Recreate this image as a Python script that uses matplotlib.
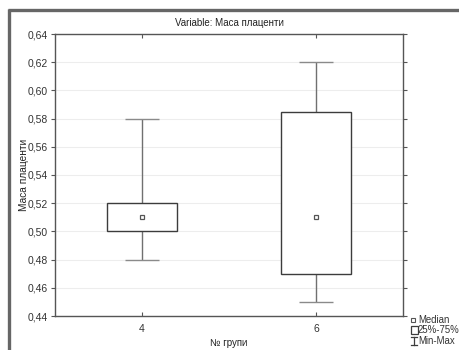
import matplotlib

matplotlib.use("Agg")
import matplotlib.pyplot as plt
from matplotlib.lines import Line2D
from matplotlib.patches import Rectangle

plt.rcParams["font.family"] = ["Liberation Sans", "DejaVu Sans"]

groups = ["4", "6"]
medians = [0.51, 0.51]
q25 = [0.50, 0.47]
q75 = [0.52, 0.585]
mins = [0.48, 0.45]
maxs = [0.58, 0.62]
yticks = [0.44, 0.46, 0.48, 0.50, 0.52, 0.54, 0.56, 0.58, 0.60, 0.62, 0.64]

EDGE = "#3c3c3c"
WHISK = "#707070"

fig = plt.figure(figsize=(4.6, 3.5), dpi=100)
ax = fig.add_axes([55 / 460, 34 / 350, 348 / 460, 282 / 350])

for i, g in enumerate(groups):
    ax.vlines(i, mins[i], q25[i], color=WHISK, lw=1.0, zorder=2)
    ax.vlines(i, q75[i], maxs[i], color=WHISK, lw=1.0, zorder=2)
    ax.hlines([mins[i], maxs[i]], i - 0.095, i + 0.095, color="#8a8a8a", lw=1.0, zorder=2)
    ax.add_patch(Rectangle((i - 0.2, q25[i]), 0.4, q75[i] - q25[i], facecolor="white",
                           edgecolor=EDGE, lw=1.0, zorder=3))
    ax.plot(i, medians[i], "s", ms=3.2, mfc="white", mec="#555555", mew=0.9, zorder=4)

ax.set_xlim(-0.5, 1.5)
ax.set_ylim(0.44, 0.64)
ax.set_xticks(range(len(groups)))
ax.set_xticklabels(groups)
ax.set_yticks(yticks)
ax.set_yticklabels([f"{v:.2f}".replace(".", ",") for v in yticks])
ax.yaxis.grid(True, color="#ededed", lw=0.8)
ax.set_axisbelow(True)
ax.tick_params(axis="y", direction="out", length=3, width=0.8, color="#555555",
               labelsize=7.5, labelcolor="#333333", right=True, pad=2)
ax.tick_params(axis="x", direction="in", length=3, width=0.8, color="#555555",
               labelsize=7.5, labelcolor="#333333", top=True, pad=6)
for s in ax.spines.values():
    s.set_color("#555555")
    s.set_linewidth(1.0)

ax.set_title("Variable: Маса плаценти", fontsize=7, color="#222222", pad=6)
ax.set_xlabel("№ групи", fontsize=7, color="#222222", labelpad=3)
ax.set_ylabel("Маса плаценти", fontsize=7.3, color="#222222")
ax.yaxis.set_label_coords((29 - 55) / 348, 0.5)

# legend block under the right spine
W, H = 460, 350
def fx(px):
    return px / W
def fy(py):
    return 1 - py / H

fig.add_artist(Line2D([fx(413.5)], [fy(320)], marker="s", ms=3, mfc="white",
                      mec="#555555", mew=0.8, ls=""))
fig.add_artist(Rectangle((fx(411), fy(334)), fx(7) - fx(0), fy(326) - fy(334),
                         transform=fig.transFigure, facecolor="white",
                         edgecolor=EDGE, lw=0.9))
fig.add_artist(Line2D([fx(414), fx(414)], [fy(337), fy(345)], color=EDGE, lw=0.9))
fig.add_artist(Line2D([fx(411), fx(417)], [fy(337), fy(337)], color=EDGE, lw=0.9))
fig.add_artist(Line2D([fx(411), fx(417)], [fy(345), fy(345)], color=EDGE, lw=0.9))
for py, txt in ((320, "Median"), (330, "25%-75%"), (341, "Min-Max")):
    fig.text(fx(418), fy(py), txt, fontsize=6.9, color="#333333", va="center", ha="left")

# window frame along the left and top edges
fig.add_artist(Line2D([fx(9), fx(9)], [fy(9), 0], color="#666666", lw=2.4,
                      solid_capstyle="butt"))
fig.add_artist(Line2D([fx(8), 1], [fy(10), fy(10)], color="#666666", lw=2.4,
                      solid_capstyle="butt"))

fig.savefig("out.png", dpi=100)
